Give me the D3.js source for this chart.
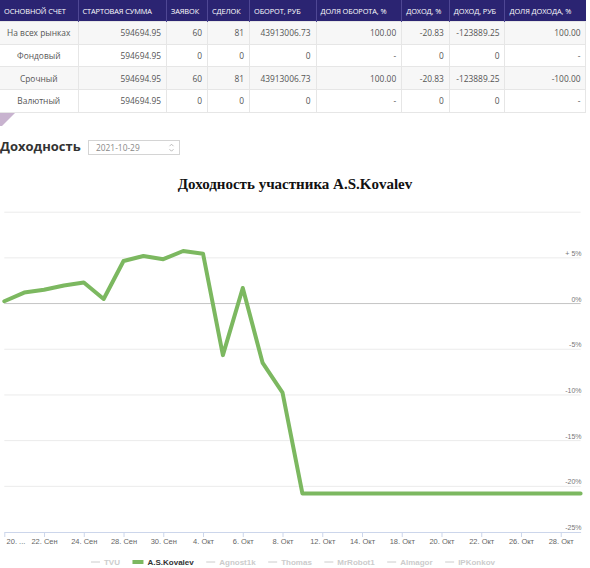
<!DOCTYPE html>
<html>
<head>
<meta charset="utf-8">
<script src="https://cdn.jsdelivr.net/npm/d3@7"></script>
<style>
  body { margin: 0; width: 590px; height: 568px; overflow: hidden; background: #fff; font-family: "Open Sans", sans-serif; }
  #chart { position: absolute; left: 0; top: 0; }
  table { position: absolute; left: 0; top: 0; border-collapse: collapse; table-layout: fixed; width: 586px; }
  th { background: #2b2472; color: #fff; font-weight: normal; font-size: 7.4px; text-align: left; padding: 0 0 0 4px;
       height: 21px; border-left: 1px solid #4f4794; letter-spacing: -0.1px; white-space: nowrap; overflow: hidden; }
  th:first-child { border-left: none; }
  td { font-size: 8.4px; color: #555; text-align: right; padding: 0 5px 0 0; height: 21.7px; border: 1px solid #e6e6e6; white-space: nowrap; }
  td:first-child { text-align: center; padding: 0; border-left: none; }
  tr.odd td { background: #f7f7f7; }
</style>
</head>
<body>
<svg id="chart" width="590" height="568"></svg>
<div id="table"></div>
<script>
// таблица
const headers = ['ОСНОВНОЙ СЧЕТ', 'СТАРТОВАЯ СУММА', 'ЗАЯВОК', 'СДЕЛОК', 'ОБОРОТ, РУБ', 'ДОЛЯ ОБОРОТА, %', 'ДОХОД, %', 'ДОХОД, РУБ', 'ДОЛЯ ДОХОДА, %'];
const colWidths = [78, 88.5, 41, 42, 66.5, 85.7, 47.6, 55.7, 81];
const markets = ['На всех рынках', 'Фондовый', 'Срочный', 'Валютный'];
const startSum = ['594694.95', '594694.95', '594694.95', '594694.95'];
const orders = ['60', '0', '60', '0'];
const deals = ['81', '0', '81', '0'];
const turnover = ['43913006.73', '0', '43913006.73', '0'];
const turnoverShare = ['100.00', '-', '100.00', '-'];
const incomePct = ['-20.83', '0', '-20.83', '0'];
const incomeRub = ['-123889.25', '0', '-123889.25', '0'];
const incomeShare = ['100.00', '-', '-100.00', '-'];

// график
const dates = ['2021-09-20', '2021-09-21', '2021-09-22', '2021-09-23', '2021-09-24', '2021-09-27', '2021-09-28',
  '2021-09-29', '2021-09-30', '2021-10-01', '2021-10-04', '2021-10-05', '2021-10-06', '2021-10-07', '2021-10-08',
  '2021-10-11', '2021-10-12', '2021-10-13', '2021-10-14', '2021-10-15', '2021-10-18', '2021-10-19', '2021-10-20',
  '2021-10-21', '2021-10-22', '2021-10-25', '2021-10-26', '2021-10-27', '2021-10-28', '2021-10-29'];
const profit = [0.2, 1.15, 1.45, 1.93, 2.25, 0.45, 4.6, 5.15, 4.8, 5.7, 5.4, -5.7, 1.65, -6.55, -9.8, -20.83,
  -20.83, -20.83, -20.83, -20.83, -20.83, -20.83, -20.83, -20.83, -20.83, -20.83, -20.83, -20.83, -20.83, -20.83];
const yTicks = [10, 5, 0, -5, -10, -15, -20, -25];
const monthNames = ['Янв', 'Фев', 'Мар', 'Апр', 'Май', 'Июн', 'Июл', 'Авг', 'Сен', 'Окт', 'Ноя', 'Дек'];
const legendNames = ['TVU', 'A.S.Kovalev', 'Agnost1k', 'Thomas', 'MrRobot1', 'Almagor', 'IPKonkov'];
const activeSeries = 'A.S.Kovalev';

const rows = markets.map((m, i) => [m, startSum[i], orders[i], deals[i], turnover[i], turnoverShare[i], incomePct[i], incomeRub[i], incomeShare[i]]);

const table = d3.select('#table').append('table');
table.append('colgroup').selectAll('col').data(colWidths).enter()
  .append('col').style('width', d => d + 'px');
table.append('thead').append('tr').selectAll('th').data(headers).enter()
  .append('th').text(d => d);
table.append('tbody').selectAll('tr').data(rows).enter()
  .append('tr').attr('class', (d, i) => i % 2 === 0 ? 'odd' : 'even')
  .selectAll('td').data(d => d).enter()
  .append('td').text(d => d);

const svg = d3.select('#chart');

// уголок под таблицей
svg.append('path')
  .attr('d', 'M0,112L16,112L2,126L0,126Z')
  .attr('fill', '#c8b3cf');

// заголовок и поле даты
svg.append('text')
  .attr('x', 0).attr('y', 150.5)
  .attr('font-family', '"Open Sans", sans-serif')
  .attr('font-weight', 'bold').attr('font-size', 13)
  .attr('fill', '#333')
  .text('Доходность');

svg.append('rect')
  .attr('x', 88.5).attr('y', 140.5).attr('width', 91).attr('height', 14)
  .attr('fill', '#fff').attr('stroke', '#d4d4d4');
svg.append('text')
  .attr('x', 96).attr('y', 150.6)
  .attr('font-family', '"Open Sans", sans-serif').attr('font-size', 8.4)
  .attr('fill', '#888')
  .text(dates[dates.length - 1]);
svg.append('path')
  .attr('d', 'M169.5,146.2L171.5,144.2L173.5,146.2M169.5,149.2L171.5,151.2L173.5,149.2')
  .attr('fill', 'none').attr('stroke', '#aaa').attr('stroke-width', 0.8);

// название графика
svg.append('text')
  .attr('x', 295).attr('y', 189)
  .attr('text-anchor', 'middle')
  .attr('font-family', '"Liberation Serif", serif')
  .attr('font-weight', 'bold').attr('font-size', 15)
  .attr('fill', '#111')
  .text('Доходность участника ' + activeSeries);

const x = d3.scalePoint().domain(dates).range([4.3, 580.6]);
const y = d3.scaleLinear().domain([-25, 10]).range([531.5, 211.7]);

// сетка
svg.append('g').selectAll('line').data(yTicks.filter(v => v !== -25)).enter()
  .append('line')
  .attr('x1', x.range()[0]).attr('x2', x.range()[1])
  .attr('y1', d => y(d) + 0.5).attr('y2', d => y(d) + 0.5)
  .attr('stroke', d => d === 0 ? '#c4c4c4' : '#ebebeb')
  .attr('stroke-width', 1);

svg.append('g').selectAll('text').data(yTicks.filter(v => v !== 10)).enter()
  .append('text')
  .attr('x', 581.5).attr('y', d => y(d) - 1.5)
  .attr('text-anchor', 'end')
  .attr('font-family', '"Liberation Sans", Arial, sans-serif')
  .attr('font-size', 7)
  .attr('fill', '#777')
  .text(d => d > 0 ? '+ ' + d + '%' : d + '%');

// ось X
const fmt = (d, i) => {
  const [yy, mm, dd] = d.split('-');
  return i === 0 ? (+dd) + '. ...' : (+dd) + '. ' + monthNames[+mm - 1];
};
const xAxis = d3.axisBottom(x)
  .tickValues(dates.filter((d, i) => i % 2 === 0))
  .tickSize(5).tickSizeOuter(0).tickPadding(2)
  .tickFormat(fmt);

const gx = svg.append('g')
  .attr('transform', `translate(0,${y(-25) + 0.5})`)
  .call(xAxis);
gx.select('.domain').attr('stroke', '#ccd6eb');
gx.selectAll('.tick line').attr('stroke', '#ccd6eb');
gx.selectAll('.tick text')
  .attr('font-family', '"Liberation Sans", Arial, sans-serif')
  .attr('font-size', 7.5)
  .attr('fill', '#666');
gx.select('.tick text').attr('text-anchor', 'start').attr('x', 1.8);

// линия
const line = d3.line()
  .x((d, i) => x(dates[i]))
  .y(d => y(d));

svg.append('path')
  .datum(profit)
  .attr('d', line)
  .attr('fill', 'none')
  .attr('stroke', '#7cb860')
  .attr('stroke-width', 4)
  .attr('stroke-linejoin', 'round')
  .attr('stroke-linecap', 'round');

// легенда
const legend = svg.append('g');
let lx = 0;
legendNames.forEach(name => {
  const active = name === activeSeries;
  const item = legend.append('g').attr('transform', `translate(${lx},0)`);
  const symW = active ? 11 : 9;
  item.append('line')
    .attr('x1', 0).attr('x2', symW).attr('y1', 0).attr('y2', 0)
    .attr('stroke', active ? '#7cb860' : '#cccccc')
    .attr('stroke-width', active ? 4 : 1);
  const t = item.append('text')
    .attr('x', symW + 4).attr('y', 3)
    .attr('font-family', '"Liberation Sans", Arial, sans-serif')
    .attr('font-size', 8).attr('font-weight', 'bold')
    .attr('fill', active ? '#333' : '#cccccc')
    .text(name);
  lx += symW + 4 + t.node().getComputedTextLength() + 12.5;
});
const legendW = lx - 12.5;
legend.attr('transform', `translate(${293 - legendW / 2},562)`);
</script>
</body>
</html>
